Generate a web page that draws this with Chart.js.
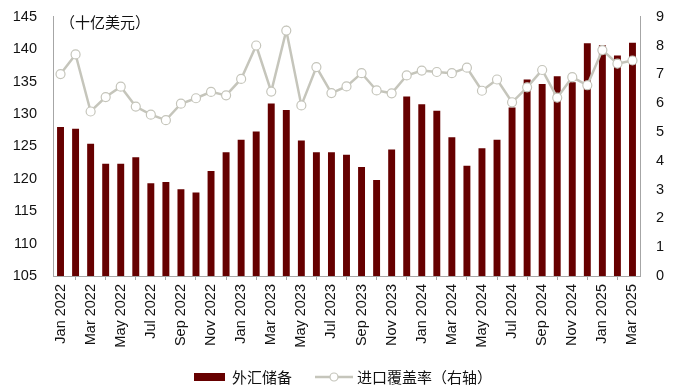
<!DOCTYPE html>
<html>
<head>
<meta charset="utf-8">
<script src="https://cdn.jsdelivr.net/npm/chart.js@4"></script>
<style>
  html, body { margin: 0; padding: 0; background: #fff; }
  #wrap { width: 677px; height: 392px; }
</style>
</head>
<body>
<div id="wrap"><canvas id="c"></canvas></div>
<script>
var months = ['Jan','Feb','Mar','Apr','May','Jun','Jul','Aug','Sep','Oct','Nov','Dec'];
var labels = [];
for (var y = 2022; y <= 2025; y++) {
  for (var m = 0; m < 12; m++) {
    if (y === 2025 && m > 2) break;
    labels.push(months[m] + ' ' + y);
  }
}

// 外汇储备 (十亿美元)
var reserves = [128.0,127.7,125.4,122.3,122.3,123.3,119.3,119.5,118.4,117.9,121.2,124.1,
                126.0,127.3,131.6,130.6,125.9,124.1,124.1,123.7,121.8,119.8,124.5,132.7,
                131.5,130.5,126.4,122.0,124.7,126.0,131.0,135.3,134.6,135.8,134.9,140.9,
                140.6,139.0,141.0];
// 进口覆盖率 (月, 右轴)
var coverage = [7.01,7.69,5.71,6.21,6.57,5.88,5.60,5.41,5.98,6.17,6.39,6.27,
                6.84,8.00,6.40,8.52,5.92,7.25,6.35,6.58,7.04,6.44,6.34,6.96,
                7.13,7.08,7.04,7.23,6.43,6.82,6.03,6.55,7.15,6.19,6.90,6.62,
                7.84,7.37,7.48];

var barColor = '#660000';
var lineColor = '#c5c5bb';
var axisColor = '#a6a6a6';
var tc = '#111';
var fam = 'Liberation Sans, Arial, sans-serif';

var legendPlugin = {
  id: 'customLegend',
  afterDraw: function(chart) {
    var ctx = chart.ctx;
    var yc = 377;
    ctx.save();
    ctx.fillStyle = barColor;
    ctx.fillRect(194, yc - 4, 31, 8);
    ctx.font = '15px "Noto Sans CJK SC", sans-serif';
    ctx.fillStyle = '#111';
    ctx.textBaseline = 'middle';
    ctx.fillText('外汇储备', 232, yc);
    ctx.strokeStyle = lineColor;
    ctx.lineWidth = 2.5;
    ctx.beginPath(); ctx.moveTo(315, yc); ctx.lineTo(353, yc); ctx.stroke();
    ctx.beginPath(); ctx.arc(334, yc, 4, 0, Math.PI * 2);
    ctx.fillStyle = '#fff'; ctx.fill();
    ctx.lineWidth = 1.2; ctx.stroke();
    ctx.fillStyle = '#111';
    ctx.fillText('进口覆盖率（右轴）', 357, yc);
    // unit note
    ctx.fillText('（十亿美元）', 60, 22);
    ctx.restore();
  }
};

new Chart(document.getElementById('c'), {
  type: 'bar',
  data: {
    labels: labels,
    datasets: [
      {type:'line',label:'进口覆盖率（右轴）',data:coverage,yAxisID:'y1',borderColor:lineColor,borderWidth:2.5,
       pointRadius:4.5,pointBackgroundColor:'#fff',pointBorderColor:lineColor,pointBorderWidth:1.2,tension:0,order:0},
      {label:'外汇储备',data:reserves,yAxisID:'y',backgroundColor:barColor,barPercentage:0.46,categoryPercentage:1,order:1}
    ]
  },
  plugins: [legendPlugin],
  options: {
    responsive: true,
    maintainAspectRatio: false,
    animation: false,
    layout: {padding: {top: 13, bottom: 36, left: 0, right: 0}},
    plugins: {legend: {display: false}, tooltip: {enabled: false}},
    scales: {
      x: {
        offset: true,
        border: {color: axisColor, width: 1},
        grid: {display: true, drawOnChartArea: false, drawTicks: true, tickLength: 4, color: axisColor, offset: true},
        ticks: {
          color: tc, font: {family: fam, size: 14.5}, autoSkip: false, maxRotation: 90, minRotation: 90, padding: 4,
          callback: function(v, i) { return i % 2 === 0 ? labels[i] : null; }
        },
        afterFit: function(s) { s.height = 80; }
      },
      y: {
        position: 'left', min: 105, max: 145,
        border: {color: axisColor, width: 1},
        grid: {display: false},
        ticks: {stepSize: 5, color: tc, font: {family: fam, size: 14.5}, padding: 8},
        afterFit: function(s) { s.width = 53; }
      },
      y1: {
        position: 'right', min: 0, max: 9,
        border: {color: axisColor, width: 1},
        grid: {display: false},
        ticks: {stepSize: 1, color: tc, font: {family: fam, size: 14.5}, padding: 8},
        afterFit: function(s) { s.width = 37; }
      }
    }
  }
});
</script>
</body>
</html>
